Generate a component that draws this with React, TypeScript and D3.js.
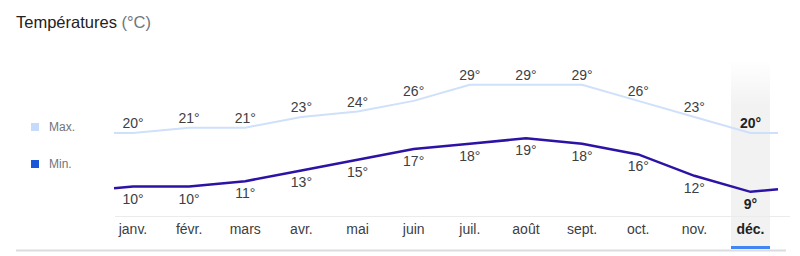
import React from "react";
import * as d3 from "d3";

const months = ["janv.", "févr.", "mars", "avr.", "mai", "juin", "juil.", "août", "sept.", "oct.", "nov.", "déc."];
const maxTemps = [20, 21, 21, 23, 24, 26, 29, 29, 29, 26, 23, 20];
const minTemps = [10, 10, 11, 13, 15, 17, 18, 19, 18, 16, 12, 9];
const selectedIndex = 11;

const W = 800;
const H = 256;
const font = "Arial, 'Liberation Sans', sans-serif";

export default function App() {
  const x = d3.scaleLinear().domain([0, 11]).range([133, 750.5]);
  const y = d3.scaleLinear().domain([10, 20]).range([186.5, 133]);
  const xStart = 114;
  const xEnd = 778;

  const buildPts = (vals: number[]) => {
    const n = vals.length;
    const first = vals[0];
    const last = vals[n - 1];
    const step = x(1) - x(0);
    const tStart = (x(0) - xStart) / step;
    const tEnd = (xEnd - x(n - 1)) / step;
    const pts: [number, number][] = [];
    pts.push([xStart, y(first + (last - first) * tStart)]);
    vals.forEach((v, i) => pts.push([x(i), y(v)]));
    pts.push([xEnd, y(last + (first - last) * tEnd)]);
    return pts;
  };

  const line = d3.line<[number, number]>().x((d) => d[0]).y((d) => d[1]);
  const bandW = 39;

  return (
    <svg width={W} height={H} style={{ position: "absolute", left: 0, top: 0 }} fontFamily={font}>
      <defs>
        <linearGradient id="band" x1="0" y1="0" x2="0" y2="1">
          <stop offset="0" stopColor="#f2f2f2" stopOpacity="0" />
          <stop offset="0.25" stopColor="#f2f2f2" stopOpacity="1" />
          <stop offset="1" stopColor="#f2f2f2" stopOpacity="1" />
        </linearGradient>
      </defs>
      <rect x={0} y={0} width={W} height={H} fill="#fff" />
      <text x={16} y={28} fontSize={16.5} fill="#222">
        Températures <tspan fill="#70757a">(°C)</tspan>
      </text>

      <rect x={x(selectedIndex) - bandW / 2} y={60} width={bandW} height={188} fill="url(#band)" />
      <rect x={x(selectedIndex) - bandW / 2} y={246} width={bandW} height={3} fill="#4285f4" />

      <line x1={115} x2={790} y1={216.5} y2={216.5} stroke="#ebebeb" strokeWidth={1} />
      <line x1={16} x2={786} y1={250.5} y2={250.5} stroke="#dadce0" strokeWidth={2} />

      <rect x={31} y={123} width={8} height={8} fill="#c6dafc" />
      <text x={49} y={131} fontSize={12} fill="#70757a">Max.</text>
      <rect x={31} y={160} width={8} height={8} fill="#1a57d8" />
      <text x={49} y={168} fontSize={12} fill="#70757a">Min.</text>

      <path d={line(buildPts(maxTemps)) || ""} fill="none" stroke="#cfe0fa" strokeWidth={2} />
      <path d={line(buildPts(minTemps)) || ""} fill="none" stroke="#2d12a6" strokeWidth={2.5} />

      {maxTemps.map((v, i) => (
        <text key={"mx" + i} x={x(i)} y={y(v) - 5} textAnchor="middle" fontSize={14}
          fill={i === selectedIndex ? "#222" : "#3c4043"} fontWeight={i === selectedIndex ? "bold" : "normal"}>
          {v}°
        </text>
      ))}
      {minTemps.map((v, i) => (
        <text key={"mn" + i} x={x(i)} y={y(v) + 17} textAnchor="middle" fontSize={14}
          fill={i === selectedIndex ? "#222" : "#3c4043"} fontWeight={i === selectedIndex ? "bold" : "normal"}>
          {v}°
        </text>
      ))}
      {months.map((m, i) => (
        <text key={"m" + i} x={x(i)} y={234} textAnchor="middle" fontSize={14}
          fill={i === selectedIndex ? "#222" : "#3c4043"} fontWeight={i === selectedIndex ? "bold" : "normal"}>
          {m}
        </text>
      ))}
    </svg>
  );
}
